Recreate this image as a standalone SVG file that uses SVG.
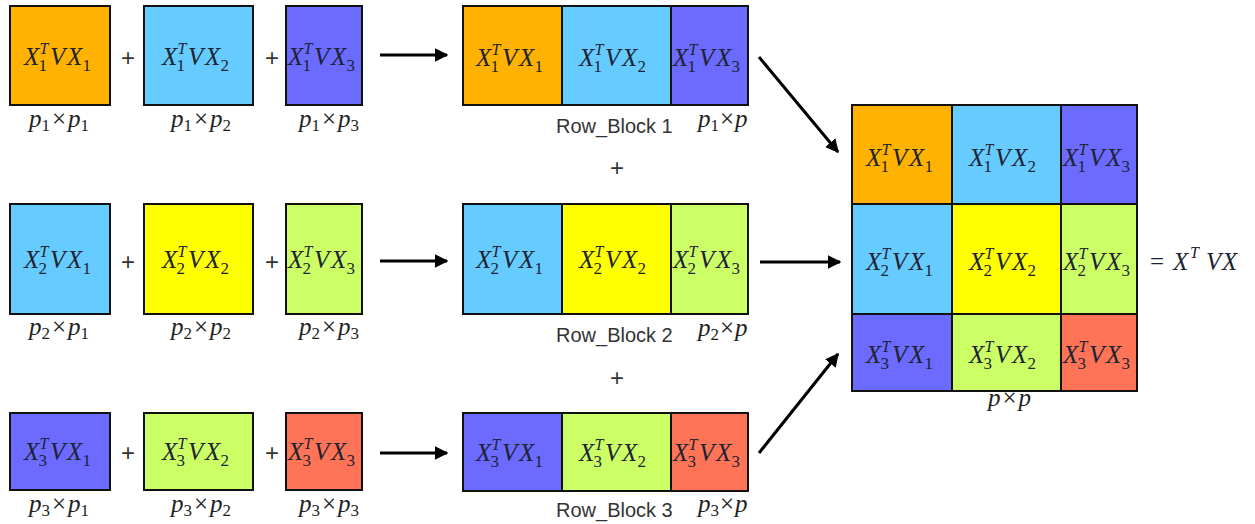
<svg xmlns="http://www.w3.org/2000/svg" width="1255" height="524" viewBox="0 0 1255 524">
<style>
.box{stroke:#111;stroke-width:2}
.or{fill:#FFB300}.bl{fill:#66CCFF}.pu{fill:#6B6BFF}.ye{fill:#FFFF00}.gr{fill:#CCFF66}.rd{fill:#FF7456}
.m{font-family:"Liberation Serif","DejaVu Serif",serif;font-style:italic;font-size:25px;fill:#1c2333}
.s{font-size:17px;font-style:normal}
.si{font-size:16px;font-style:italic}
.lab{font-family:"Liberation Serif","DejaVu Serif",serif;font-style:italic;font-size:25px;fill:#222}
.ls{font-size:17px;font-style:normal}
.x{font-style:normal}
.rb{font-family:"Liberation Sans",Arial,sans-serif;font-size:20px;fill:#333}
.plus{font-family:"Liberation Sans",Arial,sans-serif;font-size:24px;fill:#333;text-anchor:middle}
.arr{stroke:#000;stroke-width:3;fill:none;marker-end:url(#ah)}
</style>
<defs>
<marker id="ah" viewBox="0 0 10 10" refX="9" refY="5" markerWidth="4.5" markerHeight="4.5" orient="auto" markerUnits="strokeWidth">
<path d="M0,0 L10,5 L0,10 z" fill="#000"/>
</marker>
</defs>
<rect width="1255" height="524" fill="#fff"/>

<!-- Row 1 small boxes -->
<g id="r1a"><rect class="box or" x="10" y="6" width="100" height="99"/>
<text class="m" y="65"><tspan x="24">X</tspan><tspan class="si" x="39.5" y="54">T</tspan><tspan class="s" x="38.5" y="71">1</tspan><tspan x="50" y="65">V</tspan><tspan x="67">X</tspan><tspan class="s" x="82.5" y="71">1</tspan></text></g>
<g id="r1b"><rect class="box bl" x="144" y="6" width="109" height="99"/>
<text class="m" y="65"><tspan x="162">X</tspan><tspan class="si" x="177.5" y="54">T</tspan><tspan class="s" x="176.5" y="71">1</tspan><tspan x="188" y="65">V</tspan><tspan x="205">X</tspan><tspan class="s" x="220.5" y="71">2</tspan></text></g>
<g id="r1c"><rect class="box pu" x="286" y="6" width="76" height="99"/>
<text class="m" y="65"><tspan x="288">X</tspan><tspan class="si" x="303.5" y="54">T</tspan><tspan class="s" x="302.5" y="71">1</tspan><tspan x="314" y="65">V</tspan><tspan x="331">X</tspan><tspan class="s" x="346.5" y="71">3</tspan></text></g>

<!-- Row 2 small boxes -->
<g id="r2a"><rect class="box bl" x="10" y="204" width="100" height="110"/>
<text class="m" y="268"><tspan x="24">X</tspan><tspan class="si" x="39.5" y="257">T</tspan><tspan class="s" x="38.5" y="274">2</tspan><tspan x="50" y="268">V</tspan><tspan x="67">X</tspan><tspan class="s" x="82.5" y="274">1</tspan></text></g>
<g id="r2b"><rect class="box ye" x="144" y="204" width="109" height="110"/>
<text class="m" y="268"><tspan x="162">X</tspan><tspan class="si" x="177.5" y="257">T</tspan><tspan class="s" x="176.5" y="274">2</tspan><tspan x="188" y="268">V</tspan><tspan x="205">X</tspan><tspan class="s" x="220.5" y="274">2</tspan></text></g>
<g id="r2c"><rect class="box gr" x="286" y="204" width="76" height="110"/>
<text class="m" y="268"><tspan x="288">X</tspan><tspan class="si" x="303.5" y="257">T</tspan><tspan class="s" x="302.5" y="274">2</tspan><tspan x="314" y="268">V</tspan><tspan x="331">X</tspan><tspan class="s" x="346.5" y="274">3</tspan></text></g>

<!-- Row 3 small boxes -->
<g id="r3a"><rect class="box pu" x="10" y="413" width="100" height="77"/>
<text class="m" y="460"><tspan x="24">X</tspan><tspan class="si" x="39.5" y="449">T</tspan><tspan class="s" x="38.5" y="466">3</tspan><tspan x="50" y="460">V</tspan><tspan x="67">X</tspan><tspan class="s" x="82.5" y="466">1</tspan></text></g>
<g id="r3b"><rect class="box gr" x="144" y="413" width="109" height="77"/>
<text class="m" y="460"><tspan x="162">X</tspan><tspan class="si" x="177.5" y="449">T</tspan><tspan class="s" x="176.5" y="466">3</tspan><tspan x="188" y="460">V</tspan><tspan x="205">X</tspan><tspan class="s" x="220.5" y="466">2</tspan></text></g>
<g id="r3c"><rect class="box rd" x="286" y="413" width="76" height="77"/>
<text class="m" y="460"><tspan x="288">X</tspan><tspan class="si" x="303.5" y="449">T</tspan><tspan class="s" x="302.5" y="466">3</tspan><tspan x="314" y="460">V</tspan><tspan x="331">X</tspan><tspan class="s" x="346.5" y="466">3</tspan></text></g>

<!-- size labels -->
<g id="sizes">
<text class="lab" y="127"><tspan x="29">p</tspan><tspan class="ls" dy="4">1</tspan><tspan class="x" dx="2" dy="-4">×</tspan><tspan dx="2">p</tspan><tspan class="ls" dy="4">1</tspan></text>
<text class="lab" y="127"><tspan x="171">p</tspan><tspan class="ls" dy="4">1</tspan><tspan class="x" dx="2" dy="-4">×</tspan><tspan dx="2">p</tspan><tspan class="ls" dy="4">2</tspan></text>
<text class="lab" y="127"><tspan x="299">p</tspan><tspan class="ls" dy="4">1</tspan><tspan class="x" dx="2" dy="-4">×</tspan><tspan dx="2">p</tspan><tspan class="ls" dy="4">3</tspan></text>
<text class="lab" y="335"><tspan x="29">p</tspan><tspan class="ls" dy="4">2</tspan><tspan class="x" dx="2" dy="-4">×</tspan><tspan dx="2">p</tspan><tspan class="ls" dy="4">1</tspan></text>
<text class="lab" y="335"><tspan x="171">p</tspan><tspan class="ls" dy="4">2</tspan><tspan class="x" dx="2" dy="-4">×</tspan><tspan dx="2">p</tspan><tspan class="ls" dy="4">2</tspan></text>
<text class="lab" y="335"><tspan x="299">p</tspan><tspan class="ls" dy="4">2</tspan><tspan class="x" dx="2" dy="-4">×</tspan><tspan dx="2">p</tspan><tspan class="ls" dy="4">3</tspan></text>
<text class="lab" y="512"><tspan x="29">p</tspan><tspan class="ls" dy="4">3</tspan><tspan class="x" dx="2" dy="-4">×</tspan><tspan dx="2">p</tspan><tspan class="ls" dy="4">1</tspan></text>
<text class="lab" y="512"><tspan x="171">p</tspan><tspan class="ls" dy="4">3</tspan><tspan class="x" dx="2" dy="-4">×</tspan><tspan dx="2">p</tspan><tspan class="ls" dy="4">2</tspan></text>
<text class="lab" y="512"><tspan x="299">p</tspan><tspan class="ls" dy="4">3</tspan><tspan class="x" dx="2" dy="-4">×</tspan><tspan dx="2">p</tspan><tspan class="ls" dy="4">3</tspan></text>
<text class="lab" y="127"><tspan x="698">p</tspan><tspan class="ls" dy="4">1</tspan><tspan class="x" dx="1" dy="-4">×</tspan><tspan dx="1">p</tspan></text>
<text class="lab" y="336"><tspan x="698">p</tspan><tspan class="ls" dy="4">2</tspan><tspan class="x" dx="1" dy="-4">×</tspan><tspan dx="1">p</tspan></text>
<text class="lab" y="512"><tspan x="698">p</tspan><tspan class="ls" dy="4">3</tspan><tspan class="x" dx="1" dy="-4">×</tspan><tspan dx="1">p</tspan></text>
<text class="lab" y="406"><tspan x="988">p</tspan><tspan class="x" dx="2">×</tspan><tspan dx="2">p</tspan></text>
</g>

<!-- plus signs -->
<g id="plus">
<text class="plus" x="128" y="66">+</text><text class="plus" x="272" y="66">+</text>
<text class="plus" x="128" y="270">+</text><text class="plus" x="272" y="270">+</text>
<text class="plus" x="128" y="461">+</text><text class="plus" x="272" y="461">+</text>
<text class="plus" x="617" y="176">+</text><text class="plus" x="617" y="386">+</text>
</g>

<!-- Row blocks -->
<g id="rowblock1">
<rect class="box or" x="463" y="6" width="99" height="99"/><rect class="box bl" x="562" y="6" width="109" height="99"/><rect class="box pu" x="671" y="6" width="77" height="99"/>
<text class="m" y="66"><tspan x="476">X</tspan><tspan class="si" x="491.5" y="55">T</tspan><tspan class="s" x="490.5" y="72">1</tspan><tspan x="502" y="66">V</tspan><tspan x="519">X</tspan><tspan class="s" x="534.5" y="72">1</tspan></text>
<text class="m" y="66"><tspan x="579">X</tspan><tspan class="si" x="594.5" y="55">T</tspan><tspan class="s" x="593.5" y="72">1</tspan><tspan x="605" y="66">V</tspan><tspan x="622">X</tspan><tspan class="s" x="637.5" y="72">2</tspan></text>
<text class="m" y="66"><tspan x="673">X</tspan><tspan class="si" x="688.5" y="55">T</tspan><tspan class="s" x="687.5" y="72">1</tspan><tspan x="699" y="66">V</tspan><tspan x="716">X</tspan><tspan class="s" x="731.5" y="72">3</tspan></text>
<text class="rb" x="556" y="133">Row_Block 1</text>
</g>
<g id="rowblock2">
<rect class="box bl" x="463" y="204" width="99" height="110"/><rect class="box ye" x="562" y="204" width="109" height="110"/><rect class="box gr" x="671" y="204" width="77" height="110"/>
<text class="m" y="268"><tspan x="476">X</tspan><tspan class="si" x="491.5" y="257">T</tspan><tspan class="s" x="490.5" y="274">2</tspan><tspan x="502" y="268">V</tspan><tspan x="519">X</tspan><tspan class="s" x="534.5" y="274">1</tspan></text>
<text class="m" y="268"><tspan x="579">X</tspan><tspan class="si" x="594.5" y="257">T</tspan><tspan class="s" x="593.5" y="274">2</tspan><tspan x="605" y="268">V</tspan><tspan x="622">X</tspan><tspan class="s" x="637.5" y="274">2</tspan></text>
<text class="m" y="268"><tspan x="673">X</tspan><tspan class="si" x="688.5" y="257">T</tspan><tspan class="s" x="687.5" y="274">2</tspan><tspan x="699" y="268">V</tspan><tspan x="716">X</tspan><tspan class="s" x="731.5" y="274">3</tspan></text>
<text class="rb" x="556" y="342">Row_Block 2</text>
</g>
<g id="rowblock3">
<rect class="box pu" x="463" y="413" width="99" height="78"/><rect class="box gr" x="562" y="413" width="109" height="78"/><rect class="box rd" x="671" y="413" width="77" height="78"/>
<text class="m" y="461"><tspan x="476">X</tspan><tspan class="si" x="491.5" y="450">T</tspan><tspan class="s" x="490.5" y="467">3</tspan><tspan x="502" y="461">V</tspan><tspan x="519">X</tspan><tspan class="s" x="534.5" y="467">1</tspan></text>
<text class="m" y="461"><tspan x="579">X</tspan><tspan class="si" x="594.5" y="450">T</tspan><tspan class="s" x="593.5" y="467">3</tspan><tspan x="605" y="461">V</tspan><tspan x="622">X</tspan><tspan class="s" x="637.5" y="467">2</tspan></text>
<text class="m" y="461"><tspan x="673">X</tspan><tspan class="si" x="688.5" y="450">T</tspan><tspan class="s" x="687.5" y="467">3</tspan><tspan x="699" y="461">V</tspan><tspan x="716">X</tspan><tspan class="s" x="731.5" y="467">3</tspan></text>
<text class="rb" x="556" y="517">Row_Block 3</text>
</g>

<!-- Full matrix -->
<g id="matrix">
<rect class="box or" x="852" y="105" width="100" height="99"/><rect class="box bl" x="952" y="105" width="109" height="99"/><rect class="box pu" x="1061" y="105" width="76" height="99"/>
<rect class="box bl" x="852" y="204" width="100" height="110"/><rect class="box ye" x="952" y="204" width="109" height="110"/><rect class="box gr" x="1061" y="204" width="76" height="110"/>
<rect class="box pu" x="852" y="314" width="100" height="77"/><rect class="box gr" x="952" y="314" width="109" height="77"/><rect class="box rd" x="1061" y="314" width="76" height="77"/>
<text class="m" y="166"><tspan x="866">X</tspan><tspan class="si" x="881.5" y="155">T</tspan><tspan class="s" x="880.5" y="172">1</tspan><tspan x="892" y="166">V</tspan><tspan x="909">X</tspan><tspan class="s" x="924.5" y="172">1</tspan></text>
<text class="m" y="166"><tspan x="969">X</tspan><tspan class="si" x="984.5" y="155">T</tspan><tspan class="s" x="983.5" y="172">1</tspan><tspan x="995" y="166">V</tspan><tspan x="1012">X</tspan><tspan class="s" x="1027.5" y="172">2</tspan></text>
<text class="m" y="166"><tspan x="1063">X</tspan><tspan class="si" x="1078.5" y="155">T</tspan><tspan class="s" x="1077.5" y="172">1</tspan><tspan x="1089" y="166">V</tspan><tspan x="1106">X</tspan><tspan class="s" x="1121.5" y="172">3</tspan></text>
<text class="m" y="270"><tspan x="866">X</tspan><tspan class="si" x="881.5" y="259">T</tspan><tspan class="s" x="880.5" y="276">2</tspan><tspan x="892" y="270">V</tspan><tspan x="909">X</tspan><tspan class="s" x="924.5" y="276">1</tspan></text>
<text class="m" y="270"><tspan x="969">X</tspan><tspan class="si" x="984.5" y="259">T</tspan><tspan class="s" x="983.5" y="276">2</tspan><tspan x="995" y="270">V</tspan><tspan x="1012">X</tspan><tspan class="s" x="1027.5" y="276">2</tspan></text>
<text class="m" y="270"><tspan x="1063">X</tspan><tspan class="si" x="1078.5" y="259">T</tspan><tspan class="s" x="1077.5" y="276">2</tspan><tspan x="1089" y="270">V</tspan><tspan x="1106">X</tspan><tspan class="s" x="1121.5" y="276">3</tspan></text>
<text class="m" y="363"><tspan x="866">X</tspan><tspan class="si" x="881.5" y="352">T</tspan><tspan class="s" x="880.5" y="369">3</tspan><tspan x="892" y="363">V</tspan><tspan x="909">X</tspan><tspan class="s" x="924.5" y="369">1</tspan></text>
<text class="m" y="363"><tspan x="969">X</tspan><tspan class="si" x="984.5" y="352">T</tspan><tspan class="s" x="983.5" y="369">3</tspan><tspan x="995" y="363">V</tspan><tspan x="1012">X</tspan><tspan class="s" x="1027.5" y="369">2</tspan></text>
<text class="m" y="363"><tspan x="1063">X</tspan><tspan class="si" x="1078.5" y="352">T</tspan><tspan class="s" x="1077.5" y="369">3</tspan><tspan x="1089" y="363">V</tspan><tspan x="1106">X</tspan><tspan class="s" x="1121.5" y="369">3</tspan></text>
</g>
<g id="result">
<text class="m" y="270"><tspan x="1150" class="x">=</tspan><tspan x="1173">X</tspan><tspan class="si" x="1190" y="258">T</tspan><tspan x="1206" y="270">V</tspan><tspan x="1222">X</tspan></text>
</g>

<!-- connectors -->
<g id="connectors">
<line class="arr" x1="380" y1="55" x2="447" y2="55"/>
<line class="arr" x1="380" y1="261" x2="447" y2="261"/>
<line class="arr" x1="380" y1="453" x2="447" y2="453"/>
<line class="arr" x1="759" y1="57" x2="838" y2="152"/>
<line class="arr" x1="760" y1="262" x2="840" y2="262"/>
<line class="arr" x1="759" y1="453" x2="838" y2="354"/>
</g>
</svg>
